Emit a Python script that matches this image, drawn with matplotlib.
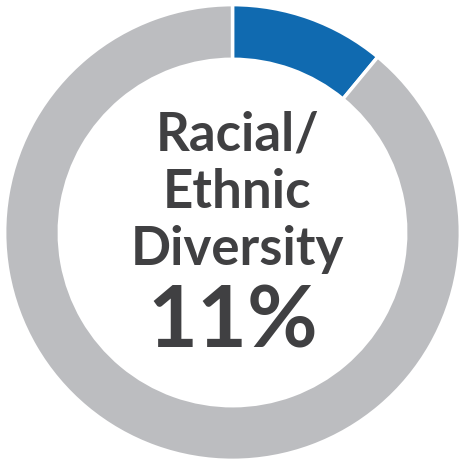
import matplotlib.pyplot as plt

# Share shown on the ring
labels = ["Racial/Ethnic Diversity", "Other"]
values = [11, 89]
colors = ["#106AB0", "#BCBDC0"]
title_lines = ["Racial/", "Ethnic", "Diversity"]
pct_text = "11%"

fig = plt.figure(figsize=(4.65, 4.65), dpi=100)
ax = fig.add_axes([0, 0, 1, 1])

ax.pie(values, colors=colors, startangle=90, counterclock=False,
       radius=0.98,
       wedgeprops=dict(width=0.235, edgecolor="white", linewidth=2.5))
ax.set_xlim(-1, 1)
ax.set_ylim(-1, 1)
ax.set_aspect("equal")
ax.axis("off")

# centre text
ys = [0.42, 0.17, -0.075]
for line, y in zip(title_lines, ys):
    ax.text(0.02, y, line, ha="center", va="center", fontsize=38,
            family="Lato", weight="bold", color="#404042")
ax.text(0.0, -0.39, pct_text, ha="center", va="center", fontsize=62,
        family="Lato", weight="bold", color="#404042")

fig.savefig("out.png", dpi=100)
